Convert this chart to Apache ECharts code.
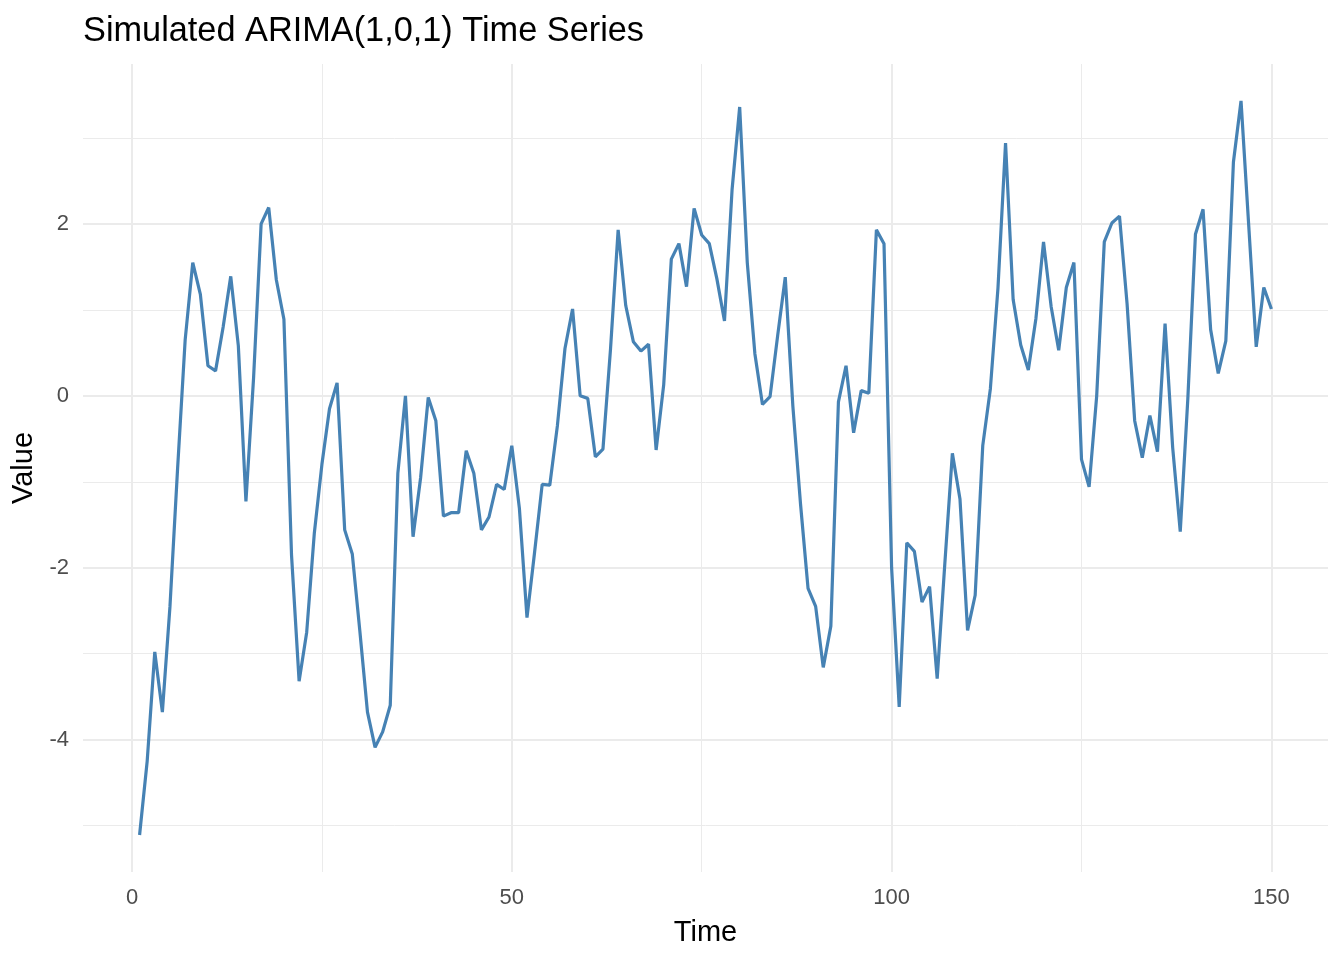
<!DOCTYPE html>
<html>
<head>
<meta charset="utf-8">
<title>Simulated ARIMA(1,0,1) Time Series</title>
<script src="https://cdn.jsdelivr.net/npm/echarts@6.0.0/dist/echarts.min.js"></script>
<style>
  html, body { margin: 0; padding: 0; background: #fff; }
  #chart { width: 1344px; height: 960px; }
</style>
</head>
<body>
<div id="chart"></div>
<script>
// time index 1..150
const times = Array.from({ length: 150 }, (_, i) => i + 1)

// values
const values = [
  -5.11, -4.25, -2.98, -3.68, -2.45, -0.85, 0.65, 1.55, 1.18, 0.35,
  0.29, 0.8, 1.39, 0.58, -1.23, 0.2, 2.0, 2.19, 1.35, 0.89,
  -1.85, -3.32, -2.75, -1.6, -0.8, -0.15, 0.15, -1.56, -1.84, -2.74,
  -3.68, -4.09, -3.91, -3.6, -0.9, 0.0, -1.64, -0.95, -0.02, -0.29,
  -1.4, -1.36, -1.36, -0.64, -0.9, -1.56, -1.41, -1.03, -1.09, -0.58,
  -1.31, -2.58, -1.82, -1.03, -1.04, -0.35, 0.55, 1.01, 0.0, -0.03,
  -0.71, -0.62, 0.55, 1.93, 1.05, 0.63, 0.52, 0.6, -0.63, 0.13,
  1.59, 1.77, 1.27, 2.18, 1.87, 1.77, 1.36, 0.87, 2.4, 3.36,
  1.55, 0.49, -0.1, -0.01, 0.7, 1.38, -0.12, -1.25, -2.24, -2.45,
  -3.16, -2.68, -0.07, 0.35, -0.43, 0.06, 0.03, 1.93, 1.77, -2.0,
  -3.62, -1.71, -1.81, -2.4, -2.22, -3.29, -1.96, -0.67, -1.2, -2.73,
  -2.32, -0.58, 0.08, 1.25, 2.94, 1.12, 0.59, 0.3, 0.9, 1.79,
  1.04, 0.53, 1.26, 1.55, -0.74, -1.06, 0.0, 1.79, 2.01, 2.09,
  1.07, -0.29, -0.72, -0.23, -0.65, 0.84, -0.6, -1.58, -0.03, 1.88,
  2.17, 0.77, 0.26, 0.64, 2.72, 3.43, 2.0, 0.57, 1.26, 1.01
]

// tick positions (major carry labels, minor are grid only)
const xMajorTicks = [0, 50, 100, 150]
const xMinorTicks = [25, 75, 125]
const yMajorTicks = [-4, -2, 0, 2]
const yMinorTicks = [-5, -3, -1, 1, 3]

// ggplot-style 5% expansion around the data
const xMin = -6.45
const xMax = 157.45
const yMin = -5.54
const yMax = 3.86

const FONT = "'Liberation Sans', Arial, sans-serif"
const GRID_COLOR = '#ebebeb'

const makeAxis = (dim, min, max, ticks, major) => {
  const axis = {
    type: 'value',
    min,
    max,
    axisLine: { show: false },
    axisTick: { show: false, customValues: ticks },
    splitLine: {
      show: true,
      lineStyle: { color: GRID_COLOR, width: major ? 2 : 1 }
    },
    axisLabel: { show: false }
  }
  if (major) {
    axis.axisLabel = {
      show: true,
      customValues: ticks,
      color: '#4d4d4d',
      fontSize: 22,
      fontFamily: FONT,
      margin: dim === 'x' ? 15 : 14
    }
  }
  return axis
}

const xAxisMajor = makeAxis('x', xMin, xMax, xMajorTicks, true)
xAxisMajor.name = 'Time'
xAxisMajor.nameLocation = 'middle'
xAxisMajor.nameGap = 46
xAxisMajor.nameTextStyle = { fontSize: 29, color: '#000', fontFamily: FONT }

const yAxisMajor = makeAxis('y', yMin, yMax, yMajorTicks, true)
yAxisMajor.name = 'Value'
yAxisMajor.nameLocation = 'middle'
yAxisMajor.nameGap = 33
yAxisMajor.nameRotate = 90
yAxisMajor.nameTextStyle = { fontSize: 29, color: '#000', fontFamily: FONT }

const chart = echarts.init(document.getElementById('chart'), null, { renderer: 'canvas' })

chart.setOption({
  backgroundColor: '#ffffff',
  animation: false,
  title: {
    text: 'Simulated ARIMA(1,0,1) Time Series',
    left: 78,
    top: 10,
    textStyle: { fontSize: 34.3, fontWeight: 'normal', color: '#000', fontFamily: FONT }
  },
  grid: { left: 83, right: 16, top: 64, bottom: 88, containLabel: false },
  xAxis: [xAxisMajor, makeAxis('x', xMin, xMax, xMinorTicks, false)],
  yAxis: [yAxisMajor, makeAxis('y', yMin, yMax, yMinorTicks, false)],
  series: [
    {
      type: 'line',
      data: times.map((t, i) => [t, values[i]]),
      showSymbol: false,
      symbol: 'none',
      clip: false,
      lineStyle: { color: '#4682b4', width: 3.2 }
    }
  ]
})

window.addEventListener('resize', () => {
  chart.resize()
})
</script>
</body>
</html>
